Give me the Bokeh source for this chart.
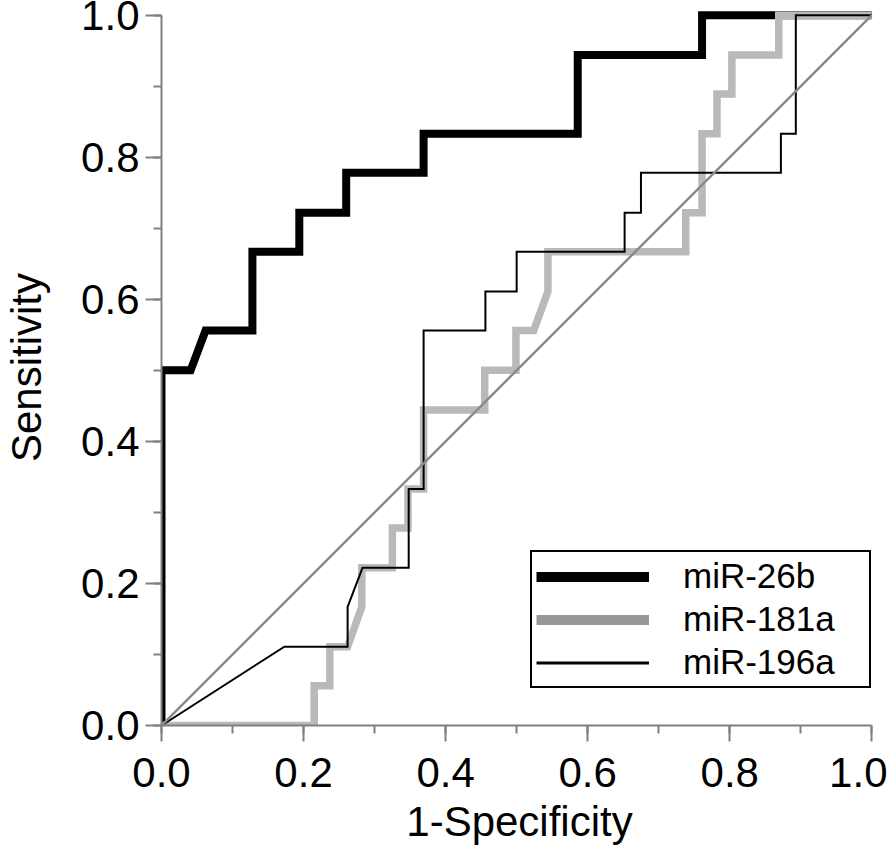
from bokeh.plotting import figure
from bokeh.models import Legend, LegendItem, SingleIntervalTicker, PrintfTickFormatter, Range1d
from bokeh.embed import file_html
from bokeh.resources import INLINE

# ROC data (1-Specificity, Sensitivity)
fpr_26b = [0, 0, 0.041, 0.062, 0.128, 0.128, 0.194, 0.194, 0.26, 0.26, 0.369, 0.369,
           0.586, 0.586, 0.761, 0.761, 1.0]
tpr_26b = [0, 0.5, 0.5, 0.556, 0.556, 0.667, 0.667, 0.722, 0.722, 0.778, 0.778, 0.833,
           0.833, 0.944, 0.944, 1.0, 1.0]

fpr_181a = [0, 0.215, 0.215, 0.237, 0.237, 0.262, 0.282, 0.282, 0.325, 0.325, 0.347, 0.347,
            0.369, 0.369, 0.455, 0.455, 0.499, 0.499, 0.524, 0.544, 0.544, 0.738, 0.738,
            0.761, 0.761, 0.782, 0.782, 0.803, 0.803, 0.869, 0.869, 1.0]
tpr_181a = [0, 0, 0.056, 0.056, 0.111, 0.111, 0.167, 0.222, 0.222, 0.278, 0.278, 0.333,
            0.333, 0.444, 0.444, 0.5, 0.5, 0.556, 0.556, 0.611, 0.667, 0.667, 0.722,
            0.722, 0.833, 0.833, 0.889, 0.889, 0.944, 0.944, 1.0, 1.0]

fpr_196a = [0, 0.173, 0.262, 0.262, 0.283, 0.348, 0.348, 0.369, 0.369, 0.456, 0.456, 0.5,
            0.5, 0.652, 0.652, 0.675, 0.675, 0.872, 0.872, 0.893, 0.893, 1.0]
tpr_196a = [0, 0.111, 0.111, 0.167, 0.222, 0.222, 0.333, 0.333, 0.556, 0.556, 0.611, 0.611,
            0.667, 0.667, 0.722, 0.722, 0.778, 0.778, 0.833, 0.833, 1.0, 1.0]

ref_x = [0, 1]
ref_y = [0, 1]

series_names = ["miR-26b", "miR-181a", "miR-196a"]
x_title = "1-Specificity"
y_title = "Sensitivity"

FONT = "Liberation Sans"
AXIS_GRAY = "#808080"

p = figure(frame_width=716, frame_height=716, output_backend="svg", toolbar_location=None,
           x_range=Range1d(0, 1.008), y_range=Range1d(0, 1.008),
           min_border_left=161, min_border_right=10, min_border_top=9, min_border_bottom=100)
p.outline_line_color = None
p.xgrid.visible = False
p.ygrid.visible = False
p.background_fill_color = "white"
p.border_fill_color = "white"

r1 = p.line(fpr_26b, tpr_26b, line_color="black", line_width=8, line_join="miter")
r2 = p.line(fpr_181a, tpr_181a, line_color="#b9b9b9", line_width=7.5, line_join="miter")
r3 = p.line(fpr_196a, tpr_196a, line_color="black", line_width=2, line_join="miter")
p.line(ref_x, ref_y, line_color="#8a8a8a", line_width=2.5)

# legend proxies (NaN points, only used for the legend swatches)
nan = float("nan")
l1 = p.line([nan], [nan], line_color="black", line_width=10)
l2 = p.line([nan], [nan], line_color="#979797", line_width=10)
l3 = p.line([nan], [nan], line_color="black", line_width=3)

for ax in (p.xaxis[0], p.yaxis[0]):
    ax.ticker = SingleIntervalTicker(interval=0.2, num_minor_ticks=2)
    ax.formatter = PrintfTickFormatter(format="%.1f")
    ax.bounds = (0, 1)
    ax.axis_line_color = AXIS_GRAY
    ax.axis_line_width = 2
    ax.major_tick_line_color = AXIS_GRAY
    ax.major_tick_line_width = 2
    ax.minor_tick_line_color = AXIS_GRAY
    ax.minor_tick_line_width = 2
    ax.major_tick_out = 16
    ax.major_tick_in = 0
    ax.minor_tick_out = 8
    ax.minor_tick_in = 0
    ax.major_label_text_font = FONT
    ax.major_label_text_font_size = "42px"
    ax.major_label_text_color = "black"
    ax.axis_label_text_font = FONT
    ax.axis_label_text_font_size = "42px"
    ax.axis_label_text_font_style = "normal"
    ax.axis_label_text_color = "black"

p.xaxis[0].axis_label = x_title
p.yaxis[0].axis_label = y_title
p.xaxis[0].major_label_standoff = 16
p.yaxis[0].major_label_standoff = 6
p.xaxis[0].axis_label_standoff = 8
p.yaxis[0].axis_label_standoff = 28

legend = Legend(items=[LegendItem(label=series_names[0], renderers=[l1]),
                       LegendItem(label=series_names[1], renderers=[l2]),
                       LegendItem(label=series_names[2], renderers=[l3])],
                location=(369, 37))
legend.border_line_color = "black"
legend.border_line_alpha = 1
legend.border_line_width = 2
legend.background_fill_color = "white"
legend.background_fill_alpha = 1
legend.label_text_font = FONT
legend.label_text_font_size = "35px"
legend.label_text_line_height = 1.0
legend.label_text_color = "black"
legend.glyph_width = 113
legend.glyph_height = 35
legend.label_height = 35
legend.label_width = 182
legend.label_standoff = 34
legend.spacing = 3
legend.padding = 4
legend.margin = 0
p.add_layout(legend, "center")

open("out.html", "w").write(file_html(p, INLINE))
